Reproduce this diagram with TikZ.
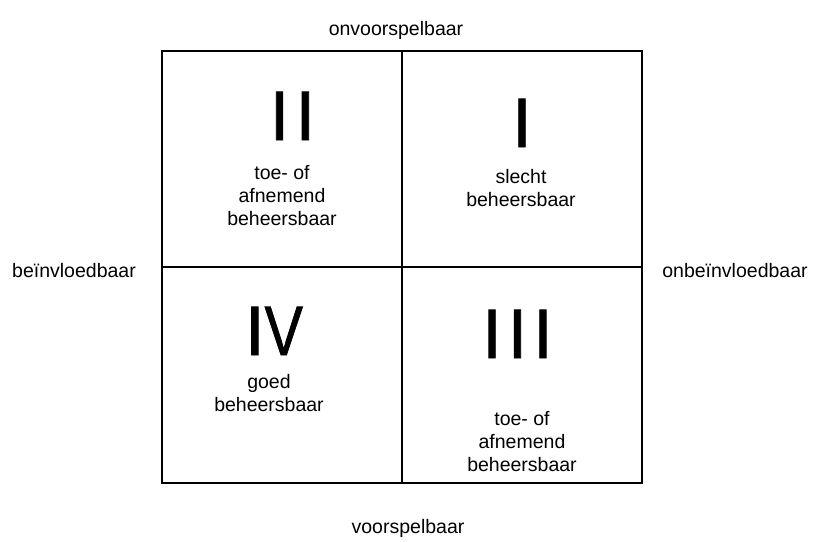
\documentclass[tikz,border=0pt]{standalone}
\usepackage{fontspec}
\setmainfont{Liberation Sans}
\newfontfamily\romfont[BoldFont=Liberation Sans,BoldFeatures={FakeBold=1.2}]{Liberation Sans}
\begin{document}
\begin{tikzpicture}[x=1pt,y=-1pt,
  cell/.style={draw=black,line width=1.5pt,minimum width=240pt,minimum height=216pt,inner sep=0pt,outer sep=0pt,anchor=north west},
  lbl/.style={font=\fontsize{19.5}{23}\selectfont,inner sep=0pt,anchor=base},
  desc/.style={font=\fontsize{19.5}{23}\selectfont,inner sep=0pt,align=center,anchor=base},
  roman/.style={font=\romfont\bfseries\fontsize{70}{70}\selectfont,inner sep=0pt,anchor=base}]
\useasboundingbox (0,0) rectangle (813,541);
\node[cell] (q2) at (162,51) {};
\node[cell] (q1) at (402,51) {};
\node[cell] (q4) at (162,267) {};
\node[cell] (q3) at (402,267) {};
% outer labels
\node[lbl] (top) at (396,35) {onvoorspelbaar};
\node[lbl] (bottom) at (408,533) {voorspelbaar};
\node[lbl] (left) at (74,277) {beïnvloedbaar};
\node[lbl] (right) at (735,277) {onbeïnvloedbaar};
% quadrant II
\node[roman] (n2) at (292.5,140) {I\hspace{6.5pt}I};
\node[desc] (d2) at (282,225) {toe- of\\afnemend\\beheersbaar};
% quadrant I
\node[roman] (n1) at (522,147) {I};
\node[desc] (d1) at (521,206) {slecht\\beheersbaar};
% quadrant IV
\node[roman] (n4) at (274,355) {I\scalebox{0.82}[1]{V}};
\node[desc] (d4) at (269,411) {goed\\beheersbaar};
% quadrant III
\node[roman] (n3) at (517.5,358) {I\hspace{6pt}I\hspace{6pt}I};
\node[desc] (d3) at (522,471) {toe- of\\afnemend\\beheersbaar};
\end{tikzpicture}
\end{document}
